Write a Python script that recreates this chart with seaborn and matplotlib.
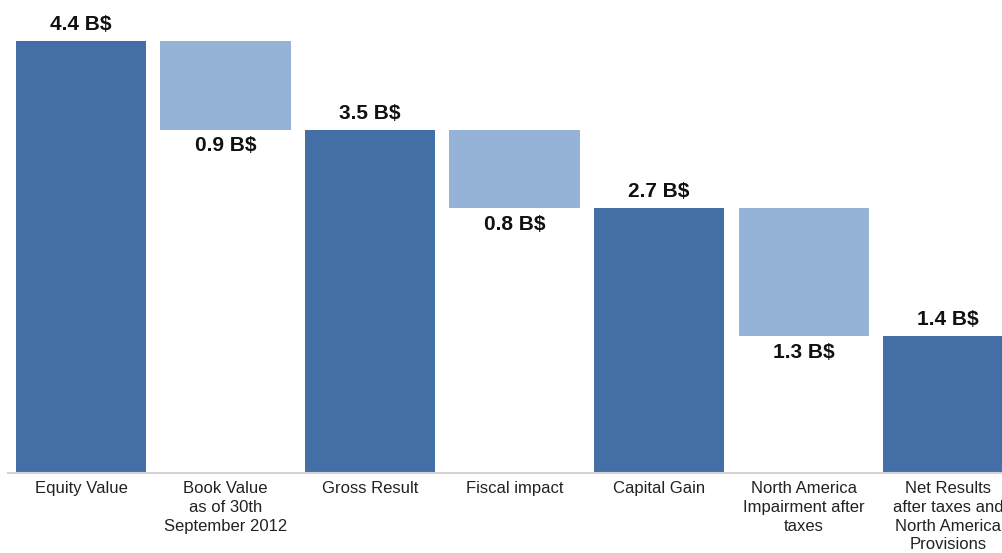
import matplotlib
matplotlib.use("Agg")
import matplotlib.pyplot as plt
import seaborn as sns
import pandas as pd

categories = ["Equity Value", "Book Value\nas of 30th\nSeptember 2012", "Gross Result",
              "Fiscal impact", "Capital Gain", "North America\nImpairment after\ntaxes",
              "Net Results\nafter taxes and\nNorth America\nProvisions"]
values = [4.4, 0.9, 3.5, 0.8, 2.7, 1.3, 1.4]
kinds = ["total", "decrease", "total", "decrease", "total", "decrease", "total"]
value_labels = ["4.4 B$", "0.9 B$", "3.5 B$", "0.8 B$", "2.7 B$", "1.3 B$", "1.4 B$"]

# waterfall geometry from the data
tops, bottoms = [], []
running = 0.0
for v, k in zip(values, kinds):
    if k == "total":
        running = v
        tops.append(v); bottoms.append(0.0)
    else:
        tops.append(running); bottoms.append(running - v)
        running = running - v

df = pd.DataFrame({"category": categories, "top": tops, "kind": kinds})

sns.set_theme(style="white")
plt.rcParams["font.family"] = ["Liberation Sans", "DejaVu Sans"]

fig = plt.figure(figsize=(10.03, 5.53), dpi=100)
ax = fig.add_axes([8 / 1003, 80 / 553, 1 - 8 / 1003, 1 - 80 / 553])

palette = {"total": "#436EA6", "decrease": "#94B3D7"}
sns.barplot(data=df, x="category", y="top", hue="kind", palette=palette,
            dodge=False, width=0.9, order=categories, legend=False,
            saturation=1, ax=ax, linewidth=0)

for p in ax.patches:
    i = int(round(p.get_x() + p.get_width() / 2))
    p.set_y(bottoms[i])
    p.set_height(tops[i] - bottoms[i])

for i, (k, lab) in enumerate(zip(kinds, value_labels)):
    if k == "total":
        ax.annotate(lab, (i, tops[i]), xytext=(0, 5), textcoords="offset points",
                    ha="center", va="bottom", fontsize=15, fontweight="bold", color="#111111")
    else:
        ax.annotate(lab, (i, bottoms[i]), xytext=(0, -5), textcoords="offset points",
                    ha="center", va="top", fontsize=15, fontweight="bold", color="#111111")

ax.set_xlim(-0.505, 6.38)
ax.set_ylim(0, 4.82)
ax.set_xlabel("")
ax.set_ylabel("")
ax.set_yticks([])
ax.tick_params(axis="x", length=0, pad=6, labelsize=12, colors="#222222")
for lbl in ax.get_xticklabels():
    lbl.set_linespacing(1.3)
for s in ["top", "right", "left"]:
    ax.spines[s].set_visible(False)
ax.spines["bottom"].set_color("#D3D3D3")
ax.spines["bottom"].set_linewidth(1.5)

fig.savefig("out.png", dpi=100)
